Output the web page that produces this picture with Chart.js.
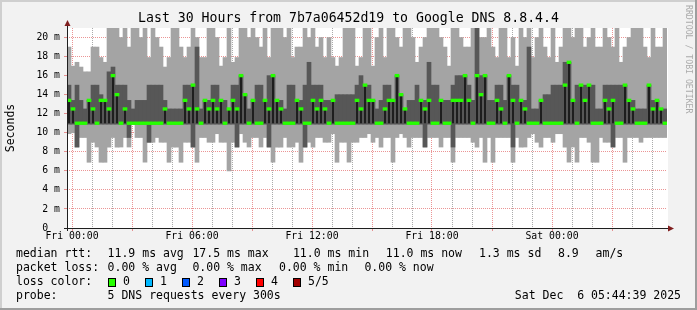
<!DOCTYPE html>
<html>
<head>
<meta charset="utf-8">
<script src="https://cdn.jsdelivr.net/npm/chart.js@4.4.1/dist/chart.umd.min.js"></script>
<style>
  html, body { margin: 0; padding: 0; background: #f2f2f2; }
</style>
</head>
<body>
<canvas id="smokeChart" width="697" height="310"></canvas>
<script>
(function () {
    // time columns: hours relative to Fri 00:00, 12 min per column
    const slotStart = -0.25;
    const slotHours = 0.2;

    // rtt in ms, one value per column
    const maxRtt = [
        19, 17, 17.4, 16.9, 16.4, 16.4, 19, 19, 17.9, 17.4, 22, 22, 22, 20, 22, 19, 22, 22, 20, 22,
        17.9, 22, 20, 19, 16.9, 17.9, 22, 22, 19, 17.9, 19, 22, 20, 17.9, 17.9, 22, 22, 20,
        17, 17.9, 22, 17.4, 17.9, 22, 22, 20, 22, 20, 19, 22, 17.9, 22, 22, 22, 20, 22, 17.9, 19,
        19, 22, 20, 22, 19, 20, 17.9, 20, 17.9, 17, 17.9, 22, 22, 22, 17, 17.9, 22,
        22, 17, 20, 22, 17.9, 22, 22, 20, 19, 22, 22, 20, 17.4, 19, 20, 22, 22, 22, 20, 19,
        17, 22, 22, 20, 19, 19, 22, 22, 20, 20, 22, 19, 17.9, 22, 22, 17.9, 20, 17,
        22, 20, 22, 17.9, 20, 22, 19, 17.9, 22, 17.4, 19, 22, 22, 20, 22, 22, 19, 20, 22, 19,
        19, 22, 20, 19, 22, 17.4, 19, 20, 22, 22, 22, 19, 17.9, 22, 19, 19, 22
    ];
    const upperRtt = [
        15, 13.4, 15, 13.4, 12.5, 13.4, 15, 15, 14, 13.4, 16.4, 16.9, 15, 15, 15, 13.4, 12.5, 13.4, 13.4, 13.4,
        15, 15, 15, 15, 13.4, 12.5, 12.5, 12.5, 12.5, 15, 15, 15, 19, 12.5, 13.4, 13.4, 15, 15,
        13.4, 13.4, 12.5, 15, 15, 16, 14, 12.5, 13.4, 15, 15, 13.4, 16, 16, 13.4, 13.4, 12.5, 15, 15, 13.4,
        13.4, 15, 17.4, 15, 15, 15, 13.4, 13.4, 13.4, 14, 14, 14, 14, 14, 15, 16, 15,
        15, 13.4, 12.5, 13.4, 15, 15, 13.4, 16, 14, 12.5, 13.4, 13.4, 15, 13.4, 13.4, 17.4, 15, 15, 13.4, 13.4,
        13.4, 15, 16, 16, 16, 15, 13.4, 22, 16, 16, 13.4, 13.4, 15, 15, 13.4, 16, 15, 15,
        13.4, 13.4, 19, 12.5, 12.5, 13.4, 14, 14, 15, 15, 15, 17.4, 17.4, 13.4, 15, 15, 15, 15, 15, 12.5,
        12.5, 15, 15, 15, 15, 15, 15, 13.4, 13.4, 12.5, 12.5, 12.5, 15, 13.4, 13.4, 12.5, 12.5
    ];
    const medianRtt = [
        13.4, 12.5, 11, 11, 11, 13.4, 12.5, 11, 13.4, 13.4, 12.5, 16, 14, 11, 12.5, 11, 11, 11, 11, 11,
        11, 11, 11, 11, 12.5, 11, 11, 11, 11, 13.4, 12.5, 15, 12.5, 11, 13.4, 12.5, 13.4, 12.5,
        13.4, 11, 12.5, 13.4, 12.5, 16, 14, 11, 13.4, 11, 11, 13.4, 12.5, 16, 13.4, 12.5, 11, 11, 11, 13.4,
        12.5, 11, 11, 13.4, 12.5, 13.4, 12.5, 11, 13.4, 11, 11, 11, 11, 11, 13.4, 12.5, 15,
        13.4, 13.4, 11, 11, 12.5, 13.4, 13.4, 16, 14, 12.5, 11, 11, 11, 13.4, 12.5, 13.4, 11, 11, 13.4, 11,
        11, 13.4, 13.4, 13.4, 16, 13.4, 11, 16, 14, 16, 11, 11, 13.4, 12.5, 11, 16, 13.4, 11,
        13.4, 12.5, 11, 11, 11, 13.4, 11, 11, 11, 11, 11, 15, 17.4, 13.4, 11, 15, 13.4, 15, 11, 11,
        11, 13.4, 12.5, 13.4, 11, 11, 15, 13.4, 12.5, 11, 11, 11, 15, 12.5, 13.4, 12.5, 11
    ];
    const lowerRtt = [
        10.9, 10.9, 8.5, 10.9, 10.9, 10.9, 10.9, 10.9, 10.9, 10.9,
        10.9, 10.9, 10.9, 10.9, 10.9, 9.5, 10.9, 10.9, 10.9, 10.9,
        9, 10.9, 10.9, 10.9, 10.9, 10.9, 10.9, 10.9, 10.9, 10.9,
        10.9, 8.5, 10.9, 10.9, 10.9, 10.9, 10.9, 10.9, 10.9, 10.9,
        10.9, 10.9, 8.5, 10.9, 10.9, 10.9, 10.9, 10.9, 10.9, 10.9,
        8.5, 10.9, 10.9, 10.9, 10.9, 10.9, 10.9, 10.9, 10.9, 8.5,
        10.9, 10.9, 10.9, 10.9, 10.9, 10.9, 10.9, 10.9, 10.9, 10.9,
        10.9, 10.9, 10.9, 10.9, 10.9, 10.9, 10.9, 10.9, 10.9, 10.9,
        10.9, 10.9, 10.9, 10.9, 10.9, 10.9, 10.9, 10.9, 10.9, 8.5,
        10.9, 10.9, 10.9, 10.9, 10.9, 10.9, 8.5, 10.9, 10.9, 10.9,
        10.9, 10.9, 10.9, 10.9, 10.9, 10.9, 10.9, 10.9, 10.9, 10.9,
        10.9, 8.5, 10.9, 10.9, 10.9, 10.9, 10.9, 10.9, 10.9, 10.9,
        10.9, 10.9, 10.9, 10.9, 10.9, 10.9, 10.9, 10.9, 10.9, 10.9,
        10.9, 10.9, 10.9, 10.9, 10.9, 10.9, 8.5, 10.9, 10.9, 10.9,
        10.9, 10.9, 10.9, 10.9, 10.9, 10.9, 10.9, 10.9, 10.9, 10.9
    ];
    const minRtt = [
        9.9, 10, 8.5, 9.5, 9.5, 6.9, 9, 8.5, 6.9, 6.9, 8.5, 9.5, 8.5, 8.5, 9.5, 8.5, 10.9, 9.5, 9.5, 6.9,
        9, 9, 9.5, 9, 9, 6.9, 8.5, 8.5, 6.9, 9, 9, 8.5, 6.9, 9.5, 9.5, 9, 9, 9.9,
        9, 9, 6, 9, 8.5, 9.9, 9, 8.5, 9.5, 9.5, 8.5, 9.5, 8.5, 6.9, 8.5, 8.5, 9.5, 8.5, 8.5, 9,
        6.9, 8.5, 9, 8.5, 9.5, 9.5, 9, 9, 9.9, 6.9, 9, 9, 6.9, 9, 9, 9.5, 9.5,
        9.9, 9, 9.5, 8.5, 9.5, 9.5, 6.9, 9.5, 9.9, 9.5, 8.5, 9.5, 9.5, 9.5, 8.5, 9.5, 9.5, 9.5, 8.5, 9.5,
        9.5, 6.9, 9.5, 9.5, 9.5, 9.5, 9, 8.5, 9.5, 6.9, 9.5, 6.9, 9.5, 9.5, 9.5, 9.5, 6.9, 9.5,
        8.5, 8.5, 9.5, 9.9, 9, 8.5, 9.5, 9.5, 9, 9.9, 9.9, 8.5, 6.9, 8.5, 6.9, 9.5, 9.5, 9, 6.9, 6.9,
        9.5, 9, 9, 8.5, 9.5, 9.5, 6.9, 9.5, 9.5, 9.5, 9, 9.5, 9.5, 9.5, 9.5, 9.5, 9.5
    ];

    // axis ticks
    const hourTicks = [0, 1, 2, 3, 4, 5, 6, 7, 8, 9, 10, 11, 12, 13, 14, 15, 16, 17, 18, 19, 20, 21, 22, 23, 24, 25, 26, 27, 28, 29];
    const hourLabels = { 0: 'Fri 00:00', 6: 'Fri 06:00', 12: 'Fri 12:00', 18: 'Fri 18:00', 24: 'Sat 00:00' };
    const msTicks = [0, 1, 2, 3, 4, 5, 6, 7, 8, 9, 10, 11, 12, 13, 14, 15, 16, 17, 18, 19, 20];

    // legend text
    const titleText = 'Last 30 Hours from 7b7a06452d19 to Google DNS 8.8.4.4';
    const rttLine = [[16, 'median rtt:'], [107.6, '11.9 ms avg'], [192.4, '17.5 ms max'], [292.9, '11.0 ms min'],
        [385.8, '11.0 ms now'], [479, '1.3 ms sd'], [558, '8.9'], [595.6, 'am/s']];
    const lossLine = [[16, 'packet loss:'], [107.6, '0.00 % avg'], [192.4, '0.00 % max'], [279, '0.00 % min'], [364.4, '0.00 % now']];
    const lossLabels = ['0', '1', '2', '3', '4', '5/5'];
    const lossColors = ['#26ff00', '#00b8ff', '#0059ff', '#7e00ff', '#ff0000', '#a10000'];
    const probeText = '5 DNS requests every 300s';
    const stampText = 'Sat Dec  6 05:44:39 2025';

    const c = {
        back: '#f2f2f2',
        shadeA: '#cfcfcf',
        shadeB: '#9e9e9e',
        grid: 'rgba(143, 143, 143, 0.75)',
        mgrid: 'rgba(222, 79, 79, 0.6)',
        axis: '#1f1f1f',
        arrow: '#801f1f',
        smokeLight: '#a4a4a4',
        smokeDark: '#575757',
        stem: '#1e1e1e'
    };
    const mono = 'DejaVu Sans Mono';

    const slotX = i => slotStart + slotHours * (i + 0.5);
    const base = Math.min(...medianRtt);

    const smokeOuter = maxRtt.map((v, i) => ({ x: slotX(i), y: [minRtt[i], v] }));
    const smokeInner = upperRtt.map((v, i) => ({ x: slotX(i), y: [lowerRtt[i], v] }));
    const medStem = medianRtt.map((v, i) => ({ x: slotX(i), y: [base, v] })).filter(p => p.y[1] > base);
    const medDash = medianRtt.map((v, i) => ({ x: slotX(i), y: [v - 0.14, v + 0.14] }));

    const barOpts = { grouped: false, barPercentage: 1, categoryPercentage: 1, borderWidth: 0 };

    const rrdFrame = {
        id: 'rrdFrame',
        beforeDraw(chart) {
            const { ctx, chartArea: a, width, height } = chart;
            ctx.save();
            ctx.fillStyle = c.back;
            ctx.fillRect(0, 0, width, height);
            ctx.fillStyle = '#ffffff';
            ctx.fillRect(a.left, a.top, a.right - a.left + 1, a.bottom - a.top);
            ctx.restore();
        },
        afterDraw(chart) {
            const { ctx, chartArea: a, width, height } = chart;
            ctx.save();

            // axes + arrows
            ctx.strokeStyle = c.axis;
            ctx.lineWidth = 1;
            ctx.beginPath();
            ctx.moveTo(a.left - 3, a.bottom + 0.5);
            ctx.lineTo(a.right + 3, a.bottom + 0.5);
            ctx.moveTo(a.left + 0.5, a.bottom + 3);
            ctx.lineTo(a.left + 0.5, a.top - 3);
            ctx.stroke();
            ctx.fillStyle = c.arrow;
            ctx.beginPath();
            ctx.moveTo(a.right + 1, a.bottom - 2.5);
            ctx.lineTo(a.right + 1, a.bottom + 3.5);
            ctx.lineTo(a.right + 7, a.bottom + 0.5);
            ctx.closePath();
            ctx.fill();
            ctx.beginPath();
            ctx.moveTo(a.left - 2.5, a.top - 2);
            ctx.lineTo(a.left + 3.5, a.top - 2);
            ctx.lineTo(a.left + 0.5, a.top - 8);
            ctx.closePath();
            ctx.fill();

            // title
            ctx.fillStyle = '#000';
            ctx.textBaseline = 'middle';
            ctx.textAlign = 'center';
            ctx.font = '13.2px "' + mono + '"';
            ctx.fillText(titleText, width / 2, 19);

            // legend
            ctx.textAlign = 'left';
            ctx.font = '11.5px "' + mono + '"';
            rttLine.forEach(([x, t]) => ctx.fillText(t, x, 254));
            lossLine.forEach(([x, t]) => ctx.fillText(t, x, 268));
            ctx.fillText('loss color:', 16, 282);
            const boxX = [108, 145, 182, 219, 256, 293];
            lossLabels.forEach((t, i) => {
                ctx.fillStyle = lossColors[i];
                ctx.fillRect(boxX[i], 278, 8, 9);
                ctx.strokeStyle = '#000';
                ctx.strokeRect(boxX[i] + 0.5, 278.5, 7, 8);
                ctx.fillStyle = '#000';
                ctx.fillText(t, boxX[i] + 15, 282);
            });
            ctx.fillText('probe:', 16, 296);
            ctx.fillText(probeText, 107.6, 296);
            ctx.textAlign = 'right';
            ctx.fillText(stampText, 681, 296);

            // watermark
            ctx.save();
            ctx.translate(688, 5);
            ctx.rotate(Math.PI / 2);
            ctx.textAlign = 'left';
            ctx.fillStyle = '#ababab';
            ctx.font = '8.2px "' + mono + '"';
            ctx.fillText('RRDTOOL / TOBI OETIKER', 0, 0);
            ctx.restore();

            // 3d frame
            ctx.fillStyle = c.shadeA;
            ctx.fillRect(0, 0, width, 2);
            ctx.fillRect(0, 0, 2, height);
            ctx.fillStyle = c.shadeB;
            ctx.fillRect(0, height - 2, width, 2);
            ctx.fillRect(width - 2, 0, 2, height);
            ctx.restore();
        }
    };

    new Chart(document.getElementById('smokeChart'), {
        type: 'bar',
        data: {
            datasets: [
                { label: 'median', data: medDash, backgroundColor: lossColors[0], order: 1, ...barOpts },
                { label: 'stem', data: medStem, backgroundColor: c.stem, order: 2, ...barOpts, barPercentage: 0.5 },
                { label: 'inner', data: smokeInner, backgroundColor: c.smokeDark, order: 3, ...barOpts },
                { label: 'outer', data: smokeOuter, backgroundColor: c.smokeLight, order: 4, ...barOpts }
            ]
        },
        options: {
            responsive: false,
            animation: false,
            layout: { padding: { left: 0, right: 30, top: 28, bottom: 0 } },
            plugins: {
                legend: { display: false },
                tooltip: { enabled: false }
            },
            scales: {
                x: {
                    type: 'linear',
                    min: slotStart,
                    max: slotStart + slotHours * maxRtt.length,
                    offset: false,
                    z: 1,
                    afterBuildTicks: s => { s.ticks = hourTicks.map(v => ({ value: v })); },
                    afterFit: s => { s.height = 82; },
                    grid: {
                        offset: false,
                        color: ctx => ctx.tick && ctx.tick.value % 3 === 0 ? c.mgrid : c.grid,
                        tickColor: ctx => ctx.tick && ctx.tick.value % 3 === 0 ? c.mgrid : 'rgba(0,0,0,0)',
                        tickLength: 3
                    },
                    border: { display: false, dash: [1, 1] },
                    ticks: {
                        autoSkip: false,
                        maxRotation: 0,
                        padding: 0,
                        color: '#000',
                        font: { family: mono, size: 9.8 },
                        callback: v => hourLabels[v] || ''
                    }
                },
                y: {
                    min: 0,
                    max: 21,
                    z: 1,
                    afterBuildTicks: s => { s.ticks = msTicks.map(v => ({ value: v })); },
                    afterFit: s => { s.width = 67; },
                    grid: {
                        color: ctx => ctx.tick && ctx.tick.value % 2 === 0 ? c.mgrid : c.grid,
                        tickColor: ctx => ctx.tick && ctx.tick.value % 2 === 0 ? c.mgrid : 'rgba(0,0,0,0)',
                        tickLength: 3
                    },
                    border: { display: false, dash: [1, 1] },
                    ticks: {
                        padding: 4,
                        color: '#000',
                        font: { family: mono, size: 9.8 },
                        callback: v => v === 0 ? '0  ' : (v % 2 === 0 ? v + ' m' : '')
                    },
                    title: {
                        display: true,
                        text: 'Seconds',
                        color: '#000',
                        font: { family: mono, size: 11.5 },
                        padding: { top: 4, bottom: 0 }
                    }
                }
            }
        },
        plugins: [rrdFrame]
    });
})();
</script>
</body>
</html>
